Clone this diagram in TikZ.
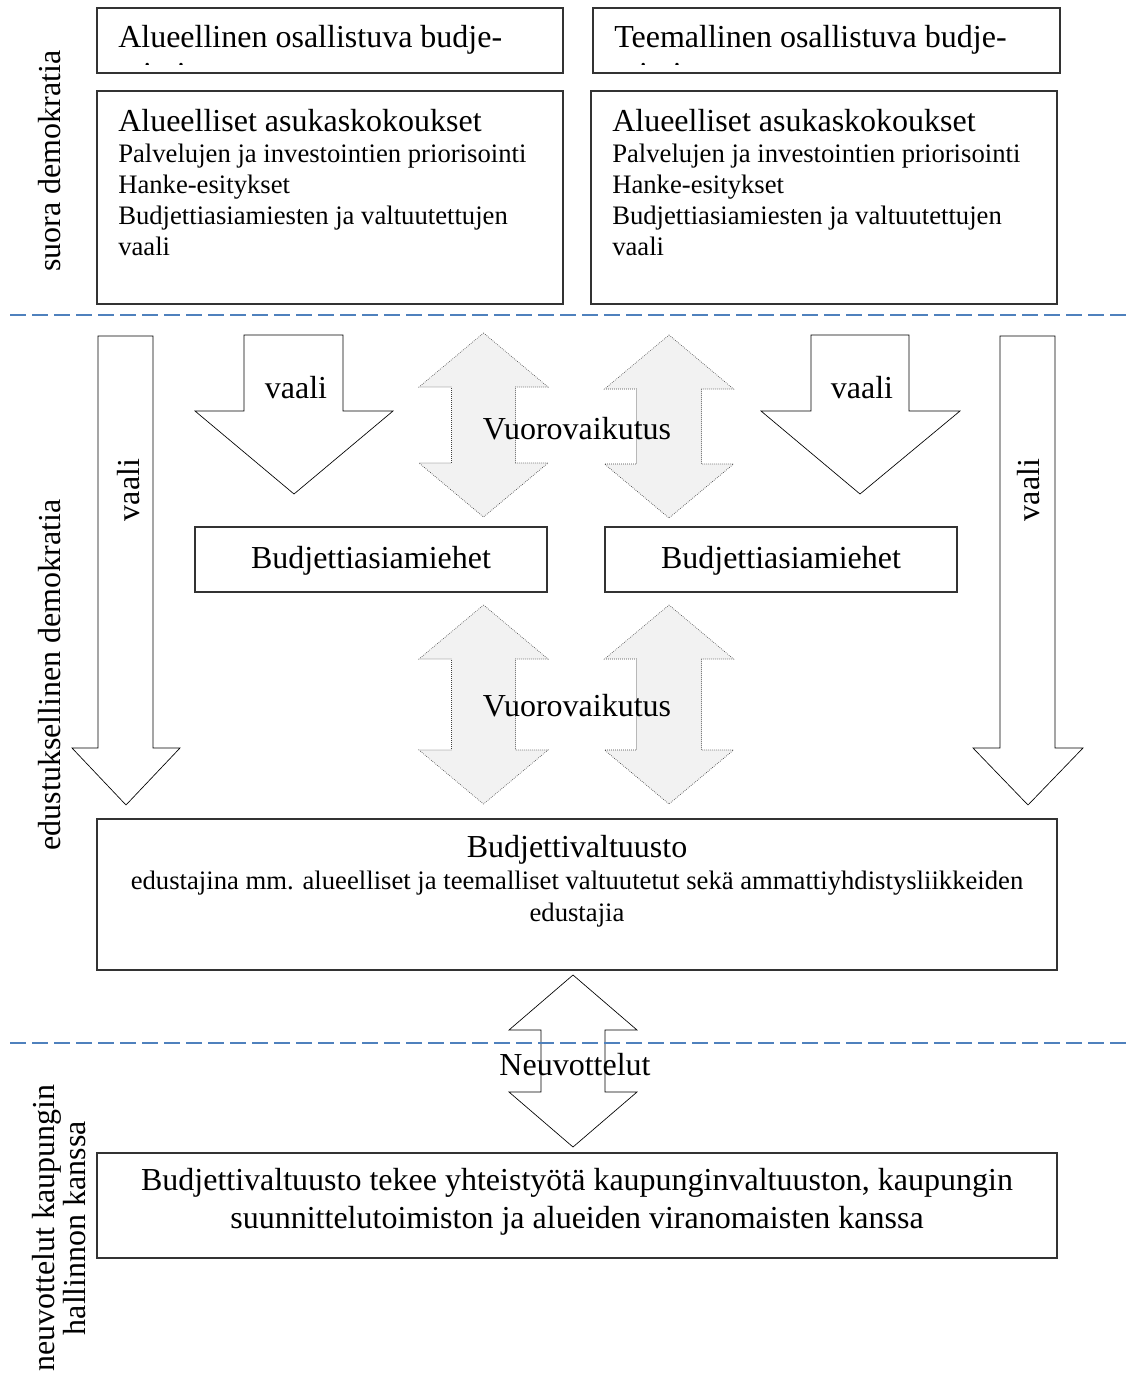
\documentclass[tikz,border=0pt]{standalone}
\usepackage{fontspec}
\setmainfont{Liberation Serif}
\usetikzlibrary{fit}
\definecolor{dashblue}{RGB}{79,129,189}
\definecolor{arrowgrey}{RGB}{242,242,242}
\newcommand\dblArrow[8]{% style, cx, hw, sw, t1, b1, b2, t2
  \draw[#1] (#2,#5) -- (#2+#3,#6) -- (#2+#4,#6) -- (#2+#4,#7) -- (#2+#3,#7) -- (#2,#8)
    -- (#2-#3,#7) -- (#2-#4,#7) -- (#2-#4,#6) -- (#2-#3,#6) -- cycle;}
\begin{document}
\begin{tikzpicture}[x=0.75pt,y=-0.75pt,
  box/.style={draw=black!80, line width=1pt, inner sep=0pt, fill=none},
  big/.style={font=\fontsize{24}{28}\selectfont, inner sep=0pt},
  small/.style={font=\fontsize{20}{23.25}\selectfont, inner sep=0pt},
  sepline/.style={draw=dashblue, line width=1.5pt, dash pattern=on 12pt off 4.5pt},
  whitearrow/.style={draw=black, line width=0.5pt, fill=white},
  greyarrow/.style={draw=black!75, line width=0.5pt, fill=arrowgrey, densely dotted}]
\useasboundingbox (0,0) rectangle (1128,1374);
\fill[white] (0,0) rectangle (1128,1374);

% top boxes
\node[box, fit={(97,8) (563,73)}] (topL) {};
\node[box, fit={(593,8) (1060,73)}] (topR) {};
\begin{scope}
  \clip (98,9) rectangle (562,64);
  \node[big, anchor=base west] (topLt) at (118,47) {Alueellinen osallistuva budje-};
  \node[big, anchor=base west] (topLt2) at (118,84) {tointi};
\end{scope}
\begin{scope}
  \clip (594,9) rectangle (1059,64);
  \node[big, anchor=base west] (topRt) at (614,47) {Teemallinen osallistuva budje-};
  \node[big, anchor=base west] (topRt2) at (614,84) {tointi};
\end{scope}

% meeting boxes
\node[box, fit={(97,91) (563,304)}] (meetL) {};
\node[box, fit={(591,91) (1057,304)}] (meetR) {};
\foreach \x/\n in {118/L, 612/R}{
  \node[big, anchor=base west] (m\n a) at (\x,131) {Alueelliset asukaskokoukset};
  \node[small, anchor=base west] (m\n b) at (\x,162) {Palvelujen ja investointien priorisointi};
  \node[small, anchor=base west] (m\n c) at (\x,193) {Hanke-esitykset};
  \node[small, anchor=base west] (m\n d) at (\x,224) {Budjettiasiamiesten ja valtuutettujen};
  \node[small, anchor=base west] (m\n e) at (\x,255) {vaali};
}

% left labels
\node[big, rotate=90] (lab1) at (50,161) {suora demokratia};
\node[big, rotate=90] (lab2) at (50,675) {edustuksellinen demokratia};
\node[big, rotate=90, align=center, font=\fontsize{24}{23}\selectfont] (lab3) at (59,1228) {neuvottelut kaupungin\\hallinnon kanssa};

% big white down arrows
\draw[whitearrow] (98,336) -- (153,336) -- (153,748) -- (180,748) -- (126,805) -- (72,748) -- (98,748) -- cycle;
\draw[whitearrow] (1000,336) -- (1055,336) -- (1055,748) -- (1083,748) -- (1028,805) -- (973,748) -- (1000,748) -- cycle;
\node[big, rotate=90] (vaaliL) at (129,490) {vaali};
\node[big, rotate=90] (vaaliR) at (1029,490) {vaali};

% small white down arrows
\draw[whitearrow] (244,335) -- (343,335) -- (343,411) -- (393,411) -- (294,494) -- (195,411) -- (244,411) -- cycle;
\draw[whitearrow] (811,335) -- (909,335) -- (909,411) -- (960,411) -- (860,494) -- (761,411) -- (811,411) -- cycle;
\node[big] (vaali1) at (296,388) {vaali};
\node[big] (vaali2) at (862,388) {vaali};

% grey double arrows (upper)
\dblArrow{greyarrow}{483.5}{64.5}{32}{333}{387}{463}{517}
\dblArrow{greyarrow}{669}{64.5}{32.5}{335}{389}{464}{518}
\node[big] (vv1) at (577,429) {Vuorovaikutus};

% Budjettiasiamiehet
\node[box, fit={(195,527) (547,592)}] (baL) {};
\node[box, fit={(605,527) (957,592)}] (baR) {};
\node[big] (baLt) at ([yshift=-1]baL.center) {Budjettiasiamiehet};
\node[big] (baRt) at ([yshift=-1]baR.center) {Budjettiasiamiehet};

% grey double arrows (lower)
\dblArrow{greyarrow}{483.5}{64.5}{32}{605}{659}{750}{804}
\dblArrow{greyarrow}{669}{64.5}{32.5}{605}{659}{750}{804}
\node[big] (vv2) at (577,706) {Vuorovaikutus};

% Budjettivaltuusto
\node[box, fit={(97,819) (1057,970)}] (bv) {};
\node[big] (bvt) at (577,850) {Budjettivaltuusto};
\node[small] (bvs1) at (577,883) {edustajina mm. alueelliset ja teemalliset valtuutetut sekä ammattiyhdistysliikkeiden};
\node[small] (bvs2) at (577,915) {edustajia};

% Neuvottelut arrow
\dblArrow{whitearrow}{573}{64}{32}{975}{1030}{1092}{1147}

% separators
\draw[sepline] (10,315) -- (1128,315);
\draw[sepline] (10,1043) -- (1128,1043);
\node[big] (neu) at (575,1065) {Neuvottelut};

% bottom box
\node[box, fit={(97,1153) (1057,1258)}] (coop) {};
\node[big] (coop1) at (577,1183) {Budjettivaltuusto tekee yhteistyötä kaupunginvaltuuston, kaupungin};
\node[big] (coop2) at (577,1221) {suunnittelutoimiston ja alueiden viranomaisten kanssa};
\end{tikzpicture}
\end{document}
